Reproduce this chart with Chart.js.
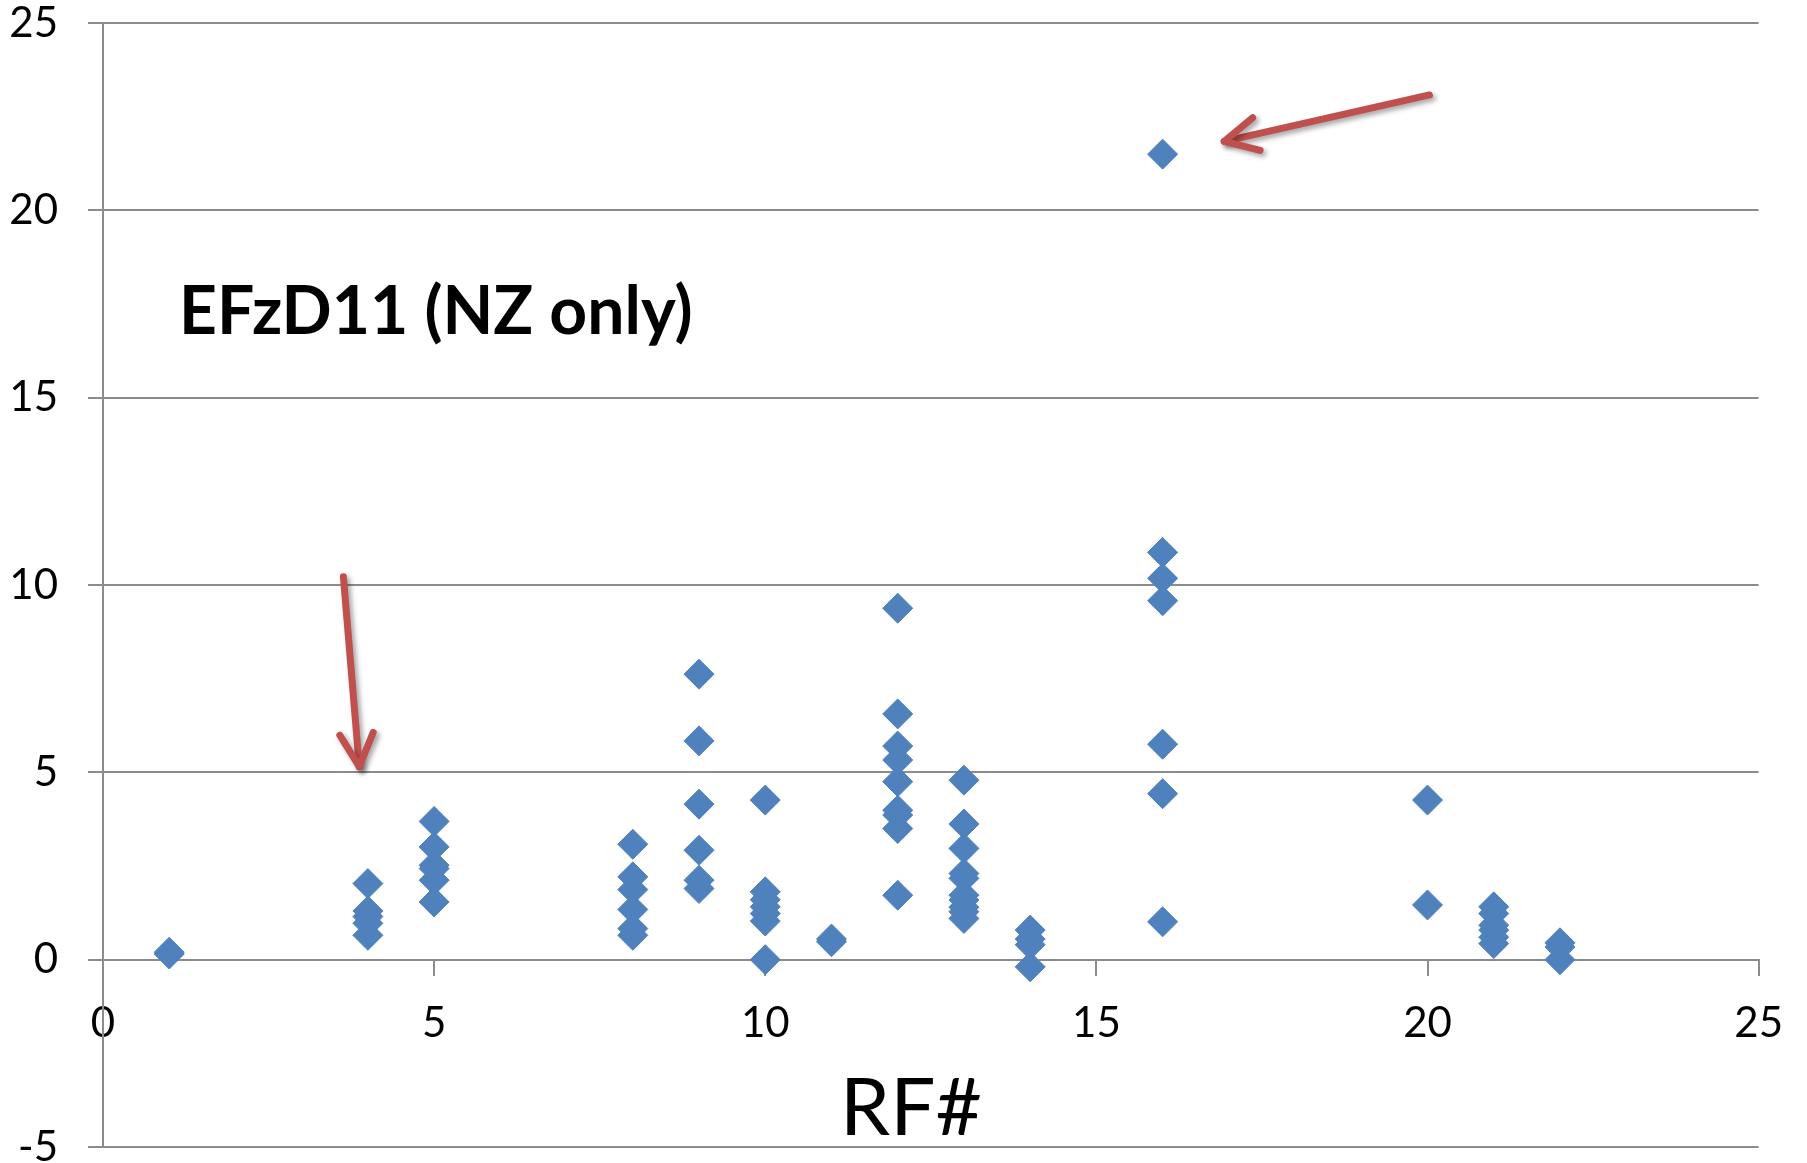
<!DOCTYPE html>
<html>
<head>
<meta charset="utf-8">
<script src="https://cdn.jsdelivr.net/npm/chart.js@4.4.1/dist/chart.umd.min.js"></script>
<style>
  html, body { margin: 0; padding: 0; background: #ffffff; }
  #wrap { width: 1807px; height: 1163px; position: relative; }
</style>
</head>
<body>
<div id="wrap"><canvas id="c" width="1807" height="1163"></canvas></div>
<script>
// ---- data ----
const rfNumber = [
  1, 1,
  4, 4, 4, 4, 4,
  5, 5, 5, 5, 5, 5,
  8, 8, 8, 8, 8, 8,
  9, 9, 9, 9, 9, 9,
  10, 10, 10, 10, 10, 10, 10,
  11, 11,
  12, 12, 12, 12, 12, 12, 12, 12, 12,
  13, 13, 13, 13, 13, 13, 13, 13, 13, 13,
  14, 14, 14, 14,
  16, 16, 16, 16, 16, 16, 16,
  20, 20,
  21, 21, 21, 21, 21, 21,
  22, 22, 22
];
const efzd11 = [
  0.2, 0.15,
  2.03, 1.3, 1.15, 0.97, 0.65,
  3.69, 3.01, 2.52, 2.43, 2.12, 1.54,
  3.08, 2.21, 1.87, 1.34, 0.83, 0.65,
  7.62, 5.84, 4.15, 2.92, 2.12, 1.9,
  4.26, 1.81, 1.6, 1.41, 1.23, 1.03, 0,
  0.55, 0.48,
  9.38, 6.56, 5.7, 5.33, 4.75, 3.99, 3.86, 3.5, 1.72,
  4.79, 3.62, 2.97, 2.3, 2.17, 1.72, 1.59, 1.4, 1.28, 1.1,
  0.79, 0.55, 0.4, -0.19,
  21.5, 10.87, 10.18, 9.58, 5.75, 4.43, 1.01,
  4.26, 1.46,
  1.41, 1.23, 0.92, 0.79, 0.6, 0.43,
  0.45, 0.34, 0
];
const xTicks = [0, 5, 10, 15, 20, 25];
const yTicks = [-5, 0, 5, 10, 15, 20, 25];
const chartLabel = "EFzD11 (NZ only)";
const xAxisTitle = "RF#";
// arrow annotations, in data units: [x, y]
const arrowTails = [[20.03, 23.08], [3.63, 10.22]];
const arrowTips  = [[16.93, 21.84], [3.87, 5.15]];

const points = rfNumber.map((x, i) => ({ x: x, y: efzd11[i] }));

const BLUE = '#4F81BD';
const GRID = '#8C8C8C';
const RED = '#C0504D';
const FONT = 'Lato, "Open Sans", "DejaVu Sans", sans-serif';

const overlay = {
  id: 'overlay',
  afterDraw(chart) {
    const ctx = chart.ctx;
    const xs = chart.scales.x, ys = chart.scales.y;
    const area = chart.chartArea;
    ctx.save();
    ctx.fillStyle = '#000000';
    ctx.font = 'bold 66px ' + FONT;
    ctx.textBaseline = 'alphabetic';
    ctx.textAlign = 'left';
    ctx.fillText(chartLabel, area.left + 76, 334);
    ctx.font = '80px ' + FONT;
    ctx.textAlign = 'center';
    ctx.fillText(xAxisTitle, xs.getPixelForValue(12.2), 1135);
    ctx.strokeStyle = RED;
    ctx.lineWidth = 7;
    ctx.lineCap = 'round';
    ctx.lineJoin = 'round';
    ctx.shadowColor = 'rgba(0,0,0,0.35)';
    ctx.shadowBlur = 5;
    ctx.shadowOffsetX = 3;
    ctx.shadowOffsetY = 3;
    arrowTails.forEach((t, i) => {
      const tip = arrowTips[i];
      const x1 = xs.getPixelForValue(t[0]), y1 = ys.getPixelForValue(t[1]);
      const x2 = xs.getPixelForValue(tip[0]), y2 = ys.getPixelForValue(tip[1]);
      const ang = Math.atan2(y1 - y2, x1 - x2);
      const L = 37, spread = 0.47;
      ctx.beginPath();
      ctx.moveTo(x1, y1);
      ctx.lineTo(x2, y2);
      ctx.stroke();
      ctx.beginPath();
      ctx.moveTo(x2 + L * Math.cos(ang - spread), y2 + L * Math.sin(ang - spread));
      ctx.lineTo(x2, y2);
      ctx.lineTo(x2 + L * Math.cos(ang + spread), y2 + L * Math.sin(ang + spread));
      ctx.stroke();
    });
    ctx.restore();
  }
};

new Chart(document.getElementById('c'), {
  type: 'scatter',
  data: {
    datasets: [{
      label: chartLabel,
      data: points,
      pointStyle: 'rectRot',
      pointRadius: 15,
      pointHoverRadius: 15,
      backgroundColor: BLUE,
      borderColor: BLUE,
      borderWidth: 1,
      clip: false
    }]
  },
  options: {
    responsive: false,
    animation: false,
    events: [],
    layout: { padding: { left: 0, right: 41, top: 23, bottom: 16 } },
    plugins: {
      legend: { display: false },
      tooltip: { enabled: false },
      title: { display: false }
    },
    scales: {
      x: {
        type: 'linear',
        position: { y: 0 },
        min: 0, max: 25,
        afterBuildTicks: (s) => { s.ticks = xTicks.map(v => ({ value: v })); },
        ticks: {
          color: '#000000',
          font: { family: FONT, size: 42 },
          padding: 24,
          maxRotation: 0,
          autoSkip: false
        },
        grid: {
          drawOnChartArea: false,
          drawTicks: true,
          tickLength: 15,
          color: GRID,
          lineWidth: 2
        },
        border: { display: true, color: GRID, width: 2 }
      },
      y: {
        type: 'linear',
        position: 'left',
        min: -5, max: 25,
        afterBuildTicks: (s) => { s.ticks = yTicks.map(v => ({ value: v })); },
        afterFit: (s) => { s.width = 103; s.paddingTop = 0; s.paddingBottom = 0; },
        ticks: {
          color: '#000000',
          font: { family: FONT, size: 42 },
          padding: 30,
          autoSkip: false
        },
        grid: {
          color: GRID,
          lineWidth: 2,
          drawTicks: true,
          tickLength: 15
        },
        border: { display: true, color: GRID, width: 2 }
      }
    }
  },
  plugins: [overlay]
});
</script>
</body>
</html>
